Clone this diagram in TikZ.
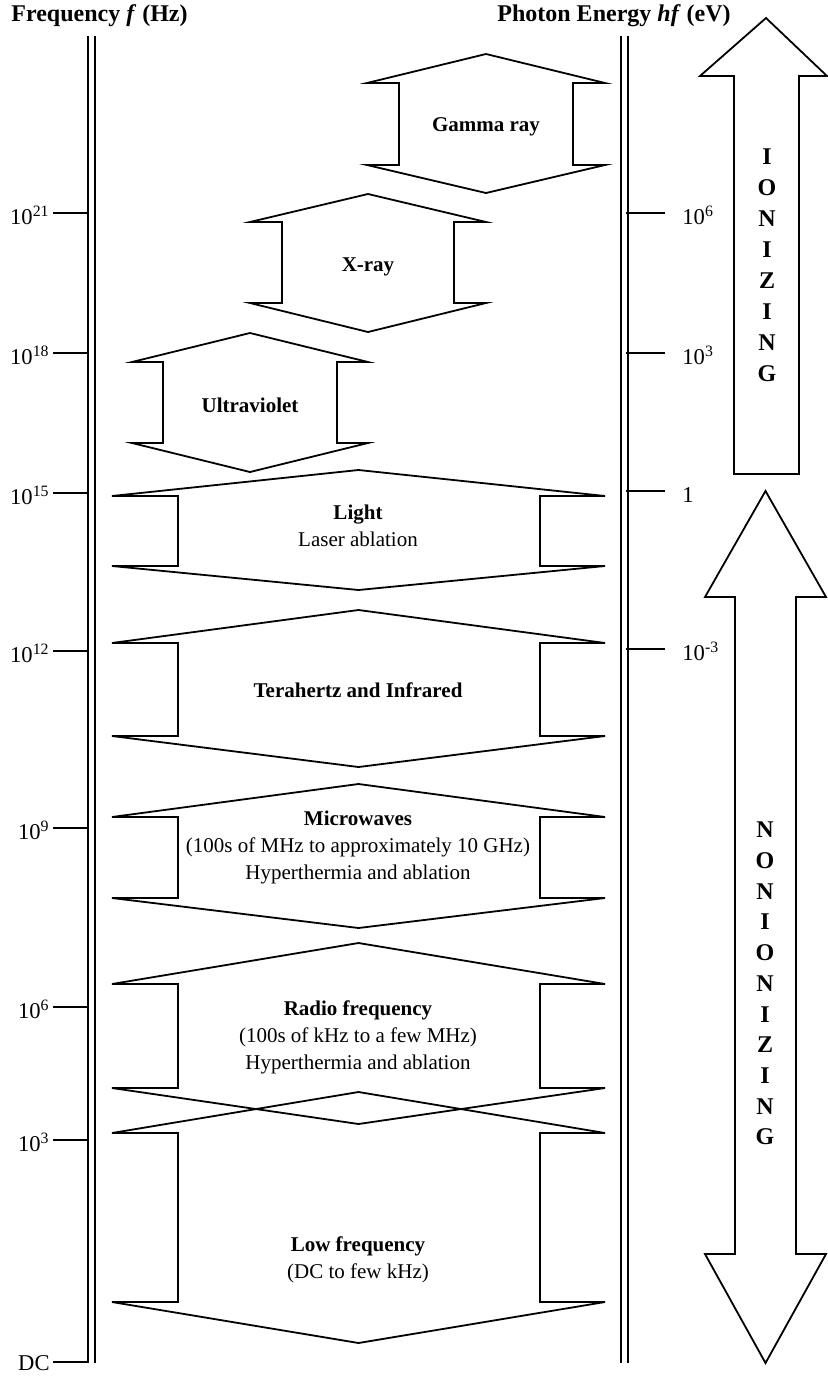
\documentclass[tikz,border=0pt]{standalone}
\usepackage{fontspec}
\setmainfont{Liberation Serif}
\usetikzlibrary{positioning}

% up-down band: xL, xLi, xRi, xR, ytop, y1, y2, ybot
\newcommand{\band}[8]{%
  \draw[bandline] ({(#1+#4)/2},#5) -- (#4,#6) -- (#3,#6) -- (#3,#7) -- (#4,#7)
    -- ({(#1+#4)/2},#8) -- (#1,#7) -- (#2,#7) -- (#2,#6) -- (#1,#6) -- cycle;}

\begin{document}
\begin{tikzpicture}[x=0.5pt, y=-0.5pt,
        every node/.style={inner sep=0pt},
        bandline/.style={draw, line width=0.9pt},
        axis/.style={double, double distance=2.6pt, line width=0.75pt},
        tick/.style={line width=0.9pt},
        title/.style={font=\bfseries\fontsize{12}{14}\selectfont, anchor=west},
        lbl/.style={font=\fontsize{11.3}{13}\selectfont},
        txt/.style={font=\fontsize{10.5}{13.5}\selectfont, align=center},
        letter/.style={font=\bfseries\fontsize{12}{14}\selectfont},
        bigarrow/.style={draw, line width=0.9pt},
    ]
    \useasboundingbox (0,0) rectangle (828,1377);

    \node[title] (freq) at (11,16) {Frequency \textit{f} (Hz)};
    \node[title] (energy) at (497,16) {Photon Energy \textit{hf} (eV)};

    % axes
    \draw[axis] (91.5,36) -- (91.5,1363);
    \draw[axis] (624.5,36) -- (624.5,1363);

    \foreach \lab/\y/\d [count=\i] in {10\textsuperscript{21}/213/11, 10\textsuperscript{18}/353/11,
        10\textsuperscript{15}/493/11, 10\textsuperscript{12}/651/11, 10\textsuperscript{9}/828/11,
        10\textsuperscript{6}/1007/11, 10\textsuperscript{3}/1140/11, DC/1362/8}
    {
        \node[lbl, anchor=base east] (fq\i) at (50,\y+\d) {\lab};
        \draw[tick] (53,\y) -- (89,\y);
    }
    \foreach \lab/\y [count=\i] in {10\textsuperscript{6}/213, 10\textsuperscript{3}/353,
        1/491, 10\textsuperscript{-3}/649}
    {
        \node[lbl, anchor=base west] (en\i) at (682,\y+11) {\lab};
        \draw[tick] (626,\y) -- (665,\y);
    }

    % bands
    \band{367}{399}{573}{605}{54}{83}{165}{193}
    \node[txt] (gamma) at (486,127) {\bfseries Gamma ray};
    \band{250}{282}{454}{486}{194}{222}{303}{332}
    \node[txt] (xray) at (368,267) {\bfseries X-ray};
    \band{132}{163}{337}{368}{333}{362}{443}{472}
    \node[txt] (uv) at (250,405) {\bfseries Ultraviolet};
    \band{112}{178}{540}{605}{470}{496}{566}{590}
    \node[txt] (light) at (358,526) {{\bfseries Light}\\Laser ablation};
    \band{112}{178}{540}{605}{610}{643}{736}{767}
    \node[txt] (thz) at (358,690) {\bfseries Terahertz and Infrared};
    \band{112}{178}{540}{605}{784}{817}{898}{928}
    \node[txt] (micro) at (358,847) {{\bfseries Microwaves}\\(100s of MHz to approximately 10 GHz)\\Hyperthermia and ablation};
    \band{112}{178}{540}{605}{943}{984}{1088}{1124}
    \node[txt] (radio) at (358,1037) {{\bfseries Radio frequency}\\(100s of kHz to a few MHz)\\Hyperthermia and ablation};
    \band{112}{178}{540}{605}{1092}{1133}{1302}{1343}
    \node[txt] (low) at (358,1260) {{\bfseries Low frequency}\\(DC to few kHz)};

    % ionizing / nonionizing
    \draw[bigarrow] (766,18) -- (827,76) -- (799,76) -- (799,474) -- (734,474) -- (734,76) -- (700,76) -- cycle;
    \draw[bigarrow] (765.5,491) -- (826,597) -- (796,597) -- (796,1254) -- (826,1254) -- (765.5,1363)
        -- (705,1254) -- (735,1254) -- (735,597) -- (705,597) -- cycle;
    \foreach \c [count=\i] in {I,O,N,I,Z,I,N,G}
        \node[letter] (ion\i) at (767,157+31*\i-31) {\c};
    \foreach \c [count=\i] in {N,O,N,I,O,N,I,Z,I,N,G}
        \node[letter] (non\i) at (765,830+30.7*\i-30.7) {\c};
\end{tikzpicture}
\end{document}
